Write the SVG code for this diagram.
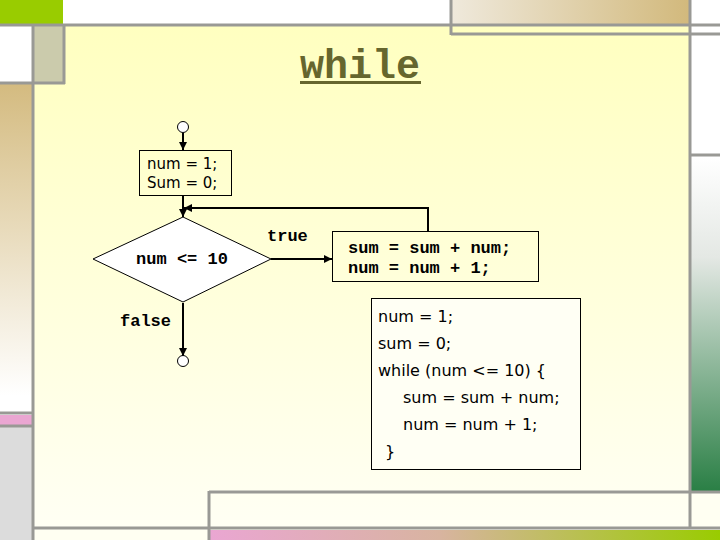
<svg xmlns="http://www.w3.org/2000/svg" width="720" height="540" viewBox="0 0 720 540">
  <defs>
    <linearGradient id="bg" x1="0" y1="0" x2="0" y2="1">
      <stop offset="0" stop-color="#ffffc0"/>
      <stop offset="1" stop-color="#fffff4"/>
    </linearGradient>
    <linearGradient id="tanV" x1="0" y1="0" x2="0" y2="1">
      <stop offset="0" stop-color="#d4bb80"/>
      <stop offset="0.95" stop-color="#ffffff"/>
      <stop offset="1" stop-color="#ffffff"/>
    </linearGradient>
    <linearGradient id="tanH" x1="0" y1="0" x2="1" y2="0">
      <stop offset="0" stop-color="#efe9dc"/>
      <stop offset="1" stop-color="#d2b97c"/>
    </linearGradient>
    <linearGradient id="greenV" x1="0" y1="0" x2="0" y2="1">
      <stop offset="0" stop-color="#ffffff"/>
      <stop offset="0.3" stop-color="#e4e8e4"/>
      <stop offset="1" stop-color="#2a7f45"/>
    </linearGradient>
    <linearGradient id="pinkGreen" x1="0" y1="0" x2="1" y2="0">
      <stop offset="0" stop-color="#eaa6d2"/>
      <stop offset="0.45" stop-color="#d8b4a0"/>
      <stop offset="1" stop-color="#99cc00"/>
    </linearGradient>
    <marker id="arr" viewBox="0 0 10 10" refX="10" refY="5" markerWidth="4" markerHeight="4" orient="auto" markerUnits="strokeWidth">
      <path d="M0,0 L10,5 L0,10 z" fill="#000"/>
    </marker>
    <style>
      .frame { stroke: #999995; stroke-width: 3; fill: none; }
      .box { fill: none; stroke: #000; stroke-width: 1; }
      .conn { fill: none; stroke: #000; stroke-width: 2; }
      .mono { font-family: "Liberation Mono", "Courier New", monospace; font-weight: bold; font-size: 17px; fill: #000; }
      .sans { font-family: "DejaVu Sans", Verdana, sans-serif; font-size: 16px; fill: #000; }
      .small { font-size: 15px; }
    </style>
  </defs>

  <!-- background decoration -->
  <g id="background">
    <rect x="0" y="0" width="720" height="540" fill="#ffffff"/>
    <rect x="34" y="26" width="656" height="502" fill="url(#bg)"/>
    <rect x="34" y="529" width="686" height="11" fill="#fffff2"/>
    <rect x="0" y="0" width="63" height="24" fill="#99cc00"/>
    <rect x="451" y="0" width="239" height="24" fill="url(#tanH)"/>
    <rect x="34" y="26" width="30" height="56" fill="#cbcbac"/>
    <rect x="0" y="84" width="32" height="328" fill="url(#tanV)"/>
    <rect x="0" y="415" width="32" height="10" fill="#eaa6d2"/>
    <rect x="0" y="427" width="32" height="113" fill="#dcdcdc"/>
    <rect x="691" y="157" width="29" height="334" fill="url(#greenV)"/>
    <rect x="691" y="493" width="29" height="35" fill="#fffff2"/>
    <rect x="210" y="530" width="510" height="10" fill="url(#pinkGreen)"/>
    <line class="frame" x1="0" y1="25" x2="720" y2="25"/>
    <line class="frame" x1="451" y1="34" x2="720" y2="34"/>
    <line class="frame" x1="451" y1="0" x2="451" y2="35"/>
    <line class="frame" x1="690" y1="0" x2="690" y2="528"/>
    <line class="frame" x1="33" y1="25" x2="33" y2="540"/>
    <line class="frame" x1="0" y1="83" x2="65" y2="83"/>
    <line class="frame" x1="64" y1="25" x2="64" y2="84"/>
    <line class="frame" x1="0" y1="413" x2="33" y2="413"/>
    <line class="frame" x1="0" y1="426" x2="33" y2="426"/>
    <line class="frame" x1="690" y1="155" x2="720" y2="155"/>
    <line class="frame" x1="209" y1="492" x2="720" y2="492"/>
    <line class="frame" x1="209" y1="491" x2="209" y2="540"/>
    <line class="frame" x1="33" y1="528" x2="720" y2="528"/>
  </g>

  <!-- title -->
  <g id="title">
    <text x="360" y="78" text-anchor="middle" font-family="Liberation Mono, Courier New, monospace" font-weight="bold" font-size="40" fill="#66662e">while</text>
    <rect x="300" y="81" width="121" height="3" fill="#66662e"/>
  </g>

  <!-- connectors -->
  <g id="connectors">
    <line class="conn" x1="183" y1="133" x2="183" y2="150" marker-end="url(#arr)"/>
    <line class="conn" x1="183" y1="195" x2="183" y2="217" marker-end="url(#arr)"/>
    <polyline class="conn" points="428,231 428,208 184,208" marker-end="url(#arr)"/>
    <line class="conn" x1="271" y1="259" x2="332" y2="259" marker-end="url(#arr)"/>
    <line class="conn" x1="183" y1="303" x2="183" y2="356" marker-end="url(#arr)"/>
    <text class="mono" x="267" y="241">true</text>
    <text class="mono" x="120" y="326">false</text>
  </g>

  <g id="start">
    <circle cx="183" cy="127" r="5.5" fill="#ffffff" stroke="#000" stroke-width="1"/>
  </g>

  <g id="init">
    <rect class="box" x="139.5" y="150.5" width="92" height="45"/>
    <text class="sans small" x="147" y="169">num = 1;</text>
    <text class="sans small" x="147" y="188">Sum = 0;</text>
  </g>

  <g id="cond">
    <polygon points="183,217 271,259 183,302 93,259" fill="#ffffff" stroke="#000" stroke-width="1"/>
    <text class="mono" x="182" y="264" text-anchor="middle">num &lt;= 10</text>
  </g>

  <g id="body">
    <rect class="box" x="332.5" y="231.5" width="206" height="50"/>
    <text class="mono" x="348" y="253">sum = sum + num;</text>
    <text class="mono" x="348" y="273">num = num + 1;</text>
  </g>

  <g id="end">
    <circle cx="183" cy="361" r="5.5" fill="#ffffff" stroke="#000" stroke-width="1"/>
  </g>

  <g id="code">
    <rect x="371.5" y="298.5" width="209" height="171" fill="#fffff4" stroke="#000" stroke-width="1"/>
    <text class="sans" x="378" y="322">num = 1;</text>
    <text class="sans" x="378" y="349">sum = 0;</text>
    <text class="sans" x="378" y="376">while (num &lt;= 10) {</text>
    <text class="sans" x="403" y="403">sum = sum + num;</text>
    <text class="sans" x="403" y="430">num = num + 1;</text>
    <text class="sans" x="385" y="457">}</text>
  </g>
</svg>
